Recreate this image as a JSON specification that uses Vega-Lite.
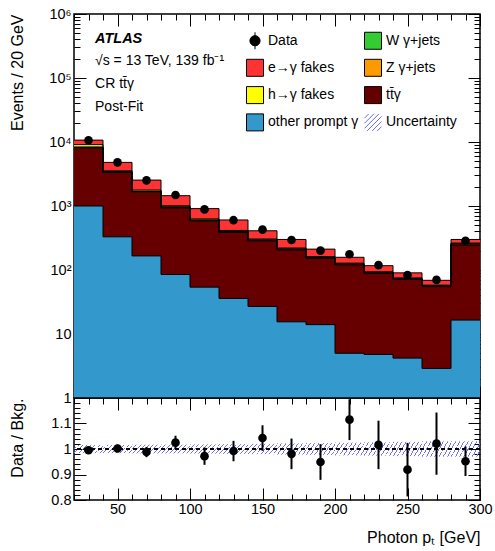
{
"$schema": "https://vega.github.io/schema/vega-lite/v6.json",
"padding": {"left": 8, "top": 5, "right": 5, "bottom": 5},
"spacing": 0,
"bounds": "flush",
"config": {
  "font": "Liberation Sans",
  "view": {"stroke": "black", "strokeWidth": 1.5},
  "axis": {"zindex": 1, "labelFont": "Liberation Sans", "labelFontSize": 14.5, "labelColor": "black", "titleFont": "Liberation Sans", "titleFontSize": 16, "titleFontWeight": "normal", "titleColor": "black", "tickColor": "black", "tickWidth": 1, "grid": false, "domain": false, "labelOverlap": false, "labelFlush": false}
},
"datasets": {
  "bkg": [
    {"lo":20,"hi":40,"comp":"other prompt γ","value":1000},{"lo":20,"hi":40,"comp":"tt̄γ","value":7000},{"lo":20,"hi":40,"comp":"Z γ+jets","value":250},{"lo":20,"hi":40,"comp":"W γ+jets","value":100},{"lo":20,"hi":40,"comp":"h→γ fakes","value":750},{"lo":20,"hi":40,"comp":"e→γ fakes","value":1600},
    {"lo":40,"hi":60,"comp":"other prompt γ","value":330},{"lo":40,"hi":60,"comp":"tt̄γ","value":3020},{"lo":40,"hi":60,"comp":"Z γ+jets","value":60},{"lo":40,"hi":60,"comp":"W γ+jets","value":30},{"lo":40,"hi":60,"comp":"h→γ fakes","value":110},{"lo":40,"hi":60,"comp":"e→γ fakes","value":1250},
    {"lo":60,"hi":80,"comp":"other prompt γ","value":166},{"lo":60,"hi":80,"comp":"tt̄γ","value":1480},{"lo":60,"hi":80,"comp":"Z γ+jets","value":40},{"lo":60,"hi":80,"comp":"W γ+jets","value":20},{"lo":60,"hi":80,"comp":"h→γ fakes","value":70},{"lo":60,"hi":80,"comp":"e→γ fakes","value":764},
    {"lo":80,"hi":100,"comp":"other prompt γ","value":85},{"lo":80,"hi":100,"comp":"tt̄γ","value":850},{"lo":80,"hi":100,"comp":"Z γ+jets","value":25},{"lo":80,"hi":100,"comp":"W γ+jets","value":12},{"lo":80,"hi":100,"comp":"h→γ fakes","value":38},{"lo":80,"hi":100,"comp":"e→γ fakes","value":440},
    {"lo":100,"hi":120,"comp":"other prompt γ","value":54},{"lo":100,"hi":120,"comp":"tt̄γ","value":530},{"lo":100,"hi":120,"comp":"Z γ+jets","value":15},{"lo":100,"hi":120,"comp":"W γ+jets","value":8},{"lo":100,"hi":120,"comp":"h→γ fakes","value":23},{"lo":100,"hi":120,"comp":"e→γ fakes","value":280},
    {"lo":120,"hi":140,"comp":"other prompt γ","value":36},{"lo":120,"hi":140,"comp":"tt̄γ","value":350},{"lo":120,"hi":140,"comp":"Z γ+jets","value":10},{"lo":120,"hi":140,"comp":"W γ+jets","value":5},{"lo":120,"hi":140,"comp":"h→γ fakes","value":14},{"lo":120,"hi":140,"comp":"e→γ fakes","value":190},
    {"lo":140,"hi":160,"comp":"other prompt γ","value":27},{"lo":140,"hi":160,"comp":"tt̄γ","value":258},{"lo":140,"hi":160,"comp":"Z γ+jets","value":7},{"lo":140,"hi":160,"comp":"W γ+jets","value":4},{"lo":140,"hi":160,"comp":"h→γ fakes","value":9},{"lo":140,"hi":160,"comp":"e→γ fakes","value":105},
    {"lo":160,"hi":180,"comp":"other prompt γ","value":15.5},{"lo":160,"hi":180,"comp":"tt̄γ","value":190},{"lo":160,"hi":180,"comp":"Z γ+jets","value":6},{"lo":160,"hi":180,"comp":"W γ+jets","value":3},{"lo":160,"hi":180,"comp":"h→γ fakes","value":6},{"lo":160,"hi":180,"comp":"e→γ fakes","value":79.5},
    {"lo":180,"hi":200,"comp":"other prompt γ","value":14},{"lo":180,"hi":200,"comp":"tt̄γ","value":138},{"lo":180,"hi":200,"comp":"Z γ+jets","value":4},{"lo":180,"hi":200,"comp":"W γ+jets","value":2},{"lo":180,"hi":200,"comp":"h→γ fakes","value":4},{"lo":180,"hi":200,"comp":"e→γ fakes","value":50},
    {"lo":200,"hi":220,"comp":"other prompt γ","value":5},{"lo":200,"hi":220,"comp":"tt̄γ","value":115},{"lo":200,"hi":220,"comp":"Z γ+jets","value":3},{"lo":200,"hi":220,"comp":"W γ+jets","value":2},{"lo":200,"hi":220,"comp":"h→γ fakes","value":3},{"lo":200,"hi":220,"comp":"e→γ fakes","value":30},
    {"lo":220,"hi":240,"comp":"other prompt γ","value":4.8},{"lo":220,"hi":240,"comp":"tt̄γ","value":84},{"lo":220,"hi":240,"comp":"Z γ+jets","value":2},{"lo":220,"hi":240,"comp":"W γ+jets","value":1},{"lo":220,"hi":240,"comp":"h→γ fakes","value":2},{"lo":220,"hi":240,"comp":"e→γ fakes","value":23},
    {"lo":240,"hi":260,"comp":"other prompt γ","value":4.2},{"lo":240,"hi":260,"comp":"tt̄γ","value":67},{"lo":240,"hi":260,"comp":"Z γ+jets","value":1.5},{"lo":240,"hi":260,"comp":"W γ+jets","value":1},{"lo":240,"hi":260,"comp":"h→γ fakes","value":1.5},{"lo":240,"hi":260,"comp":"e→γ fakes","value":15},
    {"lo":260,"hi":280,"comp":"other prompt γ","value":2.9},{"lo":260,"hi":280,"comp":"tt̄γ","value":52},{"lo":260,"hi":280,"comp":"Z γ+jets","value":1.2},{"lo":260,"hi":280,"comp":"W γ+jets","value":0.8},{"lo":260,"hi":280,"comp":"h→γ fakes","value":1.1},{"lo":260,"hi":280,"comp":"e→γ fakes","value":11},
    {"lo":280,"hi":300,"comp":"other prompt γ","value":16.5},{"lo":280,"hi":300,"comp":"tt̄γ","value":229},{"lo":280,"hi":300,"comp":"Z γ+jets","value":8},{"lo":280,"hi":300,"comp":"W γ+jets","value":4},{"lo":280,"hi":300,"comp":"h→γ fakes","value":6},{"lo":280,"hi":300,"comp":"e→γ fakes","value":36.5}
  ],
  "obs": [
    {"comp":"Data","x":30,"lo":20,"hi":40,"n":10650,"ratio":0.995,"err":0.01,"blo":0.984,"bhi":1.016},
    {"comp":"Data","x":50,"lo":40,"hi":60,"n":4810,"ratio":1.002,"err":0.015,"blo":0.984,"bhi":1.016},
    {"comp":"Data","x":70,"lo":60,"hi":80,"n":2510,"ratio":0.988,"err":0.02,"blo":0.983,"bhi":1.017},
    {"comp":"Data","x":90,"lo":80,"hi":100,"n":1486,"ratio":1.025,"err":0.027,"blo":0.983,"bhi":1.017},
    {"comp":"Data","x":110,"lo":100,"hi":120,"n":885,"ratio":0.972,"err":0.034,"blo":0.982,"bhi":1.018},
    {"comp":"Data","x":130,"lo":120,"hi":140,"n":600,"ratio":0.992,"err":0.04,"blo":0.981,"bhi":1.019},
    {"comp":"Data","x":150,"lo":140,"hi":160,"n":428,"ratio":1.043,"err":0.05,"blo":0.98,"bhi":1.02},
    {"comp":"Data","x":170,"lo":160,"hi":180,"n":294,"ratio":0.981,"err":0.06,"blo":0.978,"bhi":1.022},
    {"comp":"Data","x":190,"lo":180,"hi":200,"n":201,"ratio":0.949,"err":0.07,"blo":0.977,"bhi":1.023},
    {"comp":"Data","x":210,"lo":200,"hi":220,"n":176,"ratio":1.115,"err":0.08,"blo":0.975,"bhi":1.025},
    {"comp":"Data","x":230,"lo":220,"hi":240,"n":119,"ratio":1.016,"err":0.095,"blo":0.974,"bhi":1.026},
    {"comp":"Data","x":250,"lo":240,"hi":260,"n":83,"ratio":0.919,"err":0.105,"blo":0.972,"bhi":1.028},
    {"comp":"Data","x":270,"lo":260,"hi":280,"n":70,"ratio":1.021,"err":0.122,"blo":0.97,"bhi":1.03},
    {"comp":"Data","x":290,"lo":280,"hi":300,"n":286,"ratio":0.952,"err":0.058,"blo":0.97,"bhi":1.03}
  ]
},
"vconcat": [
  {
    "width": 406, "height": 384,
    "layer": [
      {
        "data": {"name": "bkg"},
        "transform": [{"stack": "value", "groupby": ["lo"], "as": ["y0", "y1"]}],
        "mark": {"type": "bar"},
        "encoding": {
          "x": {"field": "lo", "type": "quantitative", "scale": {"domain": [20, 300], "nice": false, "zero": false},
                "axis": {"orient": "bottom", "values": [20,30,40,50,60,70,80,90,100,110,120,130,140,150,160,170,180,190,200,210,220,230,240,250,260,270,280,290,300], "labels": false, "title": null,
                         "tickSize": {"condition": {"test": "datum.value % 50 == 0", "value": -12}, "value": -6}}},
          "x2": {"field": "hi"},
          "y": {"field": "y1", "type": "quantitative", "scale": {"type": "log", "domain": [1, 1000000], "nice": false},
                "axis": {"orient": "left", "values": [1,2,3,4,5,6,7,8,9,10,20,30,40,50,60,70,80,90,100,200,300,400,500,600,700,800,900,1000,2000,3000,4000,5000,6000,7000,8000,9000,10000,20000,30000,40000,50000,60000,70000,80000,90000,100000,200000,300000,400000,500000,600000,700000,800000,900000,1000000],
                         "labelExpr": "datum.value == 1 ? '1' : datum.value == 10 ? '10' : datum.value == 100 ? '10²' : datum.value == 1000 ? '10³' : datum.value == 10000 ? '10⁴' : datum.value == 100000 ? '10⁵' : datum.value == 1000000 ? '10⁶' : ''",
                         "tickSize": {"condition": {"test": "datum.value == 1 || datum.value == 10 || datum.value == 100 || datum.value == 1000 || datum.value == 10000 || datum.value == 100000 || datum.value == 1000000", "value": -12}, "value": -6},
                         "labelPadding": 15, "title": "Events / 20 GeV", "titleAnchor": "end", "titleX": -49}},
          "y2": {"datum": 1},
          "color": {"field": "comp", "type": "nominal",
                    "scale": {"domain": ["Data","W γ+jets","e→γ fakes","Z γ+jets","h→γ fakes","tt̄γ","other prompt γ","Uncertainty"],
                              "range": ["#000000","#33cc33","#ff3333","#ff9900","#ffff00","#660000","#3399cc","#ffffff"]},
                    "legend": {"orient": "none", "legendX": 172, "legendY": 17.5, "columns": 2, "direction": "horizontal", "title": null, "padding": 0, "symbolSize": 289, "symbolStrokeColor": "black", "symbolStrokeWidth": 1, "symbolOpacity": 1, "labelFontSize": 14, "labelFont": "Liberation Sans", "labelColor": "black", "labelOffset": 4, "rowPadding": 5.3, "columnPadding": 3, "labelLimit": 300,
                               "encode": {"symbols": {"update": {"stroke": {"signal": "datum.value == 'Uncertainty' ? '#6a6af0' : 'black'"}, "strokeWidth": {"value": 1}}}}}},
          "order": {"field": "y1", "sort": "descending"}
        }
      },
      {
        "data": {"name": "bkg"},
        "transform": [{"stack": "value", "groupby": ["lo"], "as": ["y0", "y1"]}],
        "mark": {"type": "rule", "color": "black", "strokeWidth": 1},
        "encoding": {
          "x": {"field": "lo", "type": "quantitative", "axis": null},
          "x2": {"field": "hi"},
          "y": {"field": "y1", "type": "quantitative", "axis": null}
        }
      },
      {
        "data": {"name": "bkg"},
        "transform": [
          {"stack": "value", "groupby": ["lo"], "as": ["y0", "y1"]},
          {"window": [{"op": "lead", "field": "y1", "as": "nxt"}], "groupby": ["comp"], "sort": [{"field": "lo", "order": "ascending"}]},
          {"filter": "isValid(datum.nxt)"}
        ],
        "mark": {"type": "rule", "color": "black", "strokeWidth": 1},
        "encoding": {
          "x": {"field": "hi", "type": "quantitative", "axis": null},
          "y": {"field": "y1", "type": "quantitative", "axis": null},
          "y2": {"field": "nxt"}
        }
      },
      {
        "data": {"name": "obs"},
        "mark": {"type": "point", "filled": true, "color": "black", "size": 75, "opacity": 1, "shape": "circle"},
        "encoding": {
          "x": {"field": "x", "type": "quantitative",
                "axis": {"orient": "top", "values": [20,30,40,50,60,70,80,90,100,110,120,130,140,150,160,170,180,190,200,210,220,230,240,250,260,270,280,290,300], "labels": false, "title": null,
                         "tickSize": {"condition": {"test": "datum.value % 50 == 0", "value": -12}, "value": -6}}},
          "y": {"field": "n", "type": "quantitative",
                "axis": {"orient": "right", "values": [1,2,3,4,5,6,7,8,9,10,20,30,40,50,60,70,80,90,100,200,300,400,500,600,700,800,900,1000,2000,3000,4000,5000,6000,7000,8000,9000,10000,20000,30000,40000,50000,60000,70000,80000,90000,100000,200000,300000,400000,500000,600000,700000,800000,900000,1000000],
                         "labels": false, "title": null,
                         "tickSize": {"condition": {"test": "datum.value == 1 || datum.value == 10 || datum.value == 100 || datum.value == 1000 || datum.value == 10000 || datum.value == 100000 || datum.value == 1000000", "value": -12}, "value": -6}}}
        }
      },
      {
        "data": {"name": "obs"},
        "mark": {"type": "point", "filled": true, "opacity": 0},
        "encoding": {
          "x": {"field": "x", "type": "quantitative", "axis": null},
          "y": {"field": "n", "type": "quantitative", "axis": null},
          "color": {"field": "comp", "type": "nominal",
                    "scale": {"domain": ["Data","W γ+jets","e→γ fakes","Z γ+jets","h→γ fakes","tt̄γ","other prompt γ","Uncertainty"],
                              "range": ["#000000","#33cc33","#ff3333","#ff9900","#ffff00","#660000","#3399cc","#ffffff"]},
                    "legend": {"orient": "none", "legendX": 172, "legendY": 17.5, "columns": 2, "direction": "horizontal", "title": null, "padding": 0, "symbolSize": 289, "symbolStrokeColor": "black", "symbolStrokeWidth": 1, "symbolOpacity": 1, "labelFontSize": 14, "labelFont": "Liberation Sans", "labelColor": "black", "labelOffset": 4, "rowPadding": 5.3, "columnPadding": 3, "labelLimit": 300,
                               "encode": {"symbols": {"update": {"stroke": {"signal": "datum.value == 'Uncertainty' ? '#6a6af0' : 'black'"}, "strokeWidth": {"value": 1}}}}}},
          "shape": {"field": "comp", "type": "nominal",
                    "scale": {"domain": ["Data","W γ+jets","e→γ fakes","Z γ+jets","h→γ fakes","tt̄γ","other prompt γ","Uncertainty"],
                              "range": ["M-0.6,0A0.6,0.6 0 1,0 0.6,0A0.6,0.6 0 1,0 -0.6,0ZM0,-1L0,1","square","square","square","square","square","square","M-1,-0.5L-0.5,-1M-1,0.1L0.1,-1M-1,0.7L0.7,-1M-0.7,1L1,-0.7M-0.1,1L1,-0.1M0.5,1L1,0.5"]},
                    "legend": {"orient": "none", "legendX": 172, "legendY": 17.5, "columns": 2, "direction": "horizontal", "title": null, "padding": 0, "symbolSize": 289, "symbolStrokeColor": "black", "symbolStrokeWidth": 1, "symbolOpacity": 1, "labelFontSize": 14, "labelFont": "Liberation Sans", "labelColor": "black", "labelOffset": 4, "rowPadding": 5.3, "columnPadding": 3, "labelLimit": 300,
                               "encode": {"symbols": {"update": {"stroke": {"signal": "datum.value == 'Uncertainty' ? '#6a6af0' : 'black'"}, "strokeWidth": {"value": 1}}}}}}
        }
      },
      {
        "data": {"values": [{}]},
        "mark": {"type": "text", "text": "ATLAS", "align": "left", "baseline": "middle", "fontSize": 14.5, "fontWeight": "bold", "fontStyle": "italic", "color": "black"},
        "encoding": {"x": {"datum": 34.5, "type": "quantitative", "axis": null}, "y": {"datum": 407000, "type": "quantitative", "axis": null}}
      },
      {
        "data": {"values": [{}]},
        "mark": {"type": "text", "text": "√s = 13 TeV, 139 fb⁻¹", "align": "left", "baseline": "middle", "fontSize": 14, "color": "black"},
        "encoding": {"x": {"datum": 34.5, "type": "quantitative", "axis": null}, "y": {"datum": 184000, "type": "quantitative", "axis": null}}
      },
      {
        "data": {"values": [{}]},
        "mark": {"type": "text", "text": "CR tt̄γ", "align": "left", "baseline": "middle", "fontSize": 14, "color": "black"},
        "encoding": {"x": {"datum": 34.5, "type": "quantitative", "axis": null}, "y": {"datum": 80600, "type": "quantitative", "axis": null}}
      },
      {
        "data": {"values": [{}]},
        "mark": {"type": "text", "text": "Post-Fit", "align": "left", "baseline": "middle", "fontSize": 14, "color": "black"},
        "encoding": {"x": {"datum": 34.5, "type": "quantitative", "axis": null}, "y": {"datum": 35200, "type": "quantitative", "axis": null}}
      }
    ],
    "resolve": {"axis": {"x": "independent", "y": "independent"}}
  },
  {
    "width": 406, "height": 102,
    "data": {"name": "obs"},
    "layer": [
      {
        "mark": {"type": "bar", "fill": {"gradient": "linear", "x1": 0, "y1": 0, "x2": 1.2, "y2": 0.36, "stops": [
          {"offset":0,"color":"#7474f2"},{"offset":0.025,"color":"#7474f2"},{"offset":0.025,"color":"rgba(255,255,255,0)"},{"offset":0.1111,"color":"rgba(255,255,255,0)"},
          {"offset":0.1111,"color":"#7474f2"},{"offset":0.1361,"color":"#7474f2"},{"offset":0.1361,"color":"rgba(255,255,255,0)"},{"offset":0.2222,"color":"rgba(255,255,255,0)"},
          {"offset":0.2222,"color":"#7474f2"},{"offset":0.2472,"color":"#7474f2"},{"offset":0.2472,"color":"rgba(255,255,255,0)"},{"offset":0.3333,"color":"rgba(255,255,255,0)"},
          {"offset":0.3333,"color":"#7474f2"},{"offset":0.3583,"color":"#7474f2"},{"offset":0.3583,"color":"rgba(255,255,255,0)"},{"offset":0.4444,"color":"rgba(255,255,255,0)"},
          {"offset":0.4444,"color":"#7474f2"},{"offset":0.4694,"color":"#7474f2"},{"offset":0.4694,"color":"rgba(255,255,255,0)"},{"offset":0.5556,"color":"rgba(255,255,255,0)"},
          {"offset":0.5556,"color":"#7474f2"},{"offset":0.5806,"color":"#7474f2"},{"offset":0.5806,"color":"rgba(255,255,255,0)"},{"offset":0.6667,"color":"rgba(255,255,255,0)"},
          {"offset":0.6667,"color":"#7474f2"},{"offset":0.6917,"color":"#7474f2"},{"offset":0.6917,"color":"rgba(255,255,255,0)"},{"offset":0.7778,"color":"rgba(255,255,255,0)"},
          {"offset":0.7778,"color":"#7474f2"},{"offset":0.8028,"color":"#7474f2"},{"offset":0.8028,"color":"rgba(255,255,255,0)"},{"offset":0.8889,"color":"rgba(255,255,255,0)"},
          {"offset":0.8889,"color":"#7474f2"},{"offset":0.9139,"color":"#7474f2"},{"offset":0.9139,"color":"rgba(255,255,255,0)"},{"offset":1,"color":"rgba(255,255,255,0)"}
        ]}},
        "encoding": {
          "x": {"field": "lo", "type": "quantitative", "scale": {"domain": [20, 300], "nice": false, "zero": false},
                "axis": {"orient": "bottom", "values": [20,30,40,50,60,70,80,90,100,110,120,130,140,150,160,170,180,190,200,210,220,230,240,250,260,270,280,290,300],
                         "labelExpr": "datum.value % 50 == 0 ? datum.label : ''", "labelPadding": 14,
                         "tickSize": {"condition": {"test": "datum.value % 50 == 0", "value": -12}, "value": -6},
                         "title": "Photon pₜ [GeV]", "titleAnchor": "end", "titlePadding": 8}},
          "x2": {"field": "hi"},
          "y": {"field": "blo", "type": "quantitative", "scale": {"domain": [0.8, 1.2], "nice": false, "zero": false},
                "axis": {"orient": "left", "values": [0.8,0.82,0.84,0.86,0.88,0.9,0.92,0.94,0.96,0.98,1,1.02,1.04,1.06,1.08,1.1,1.12,1.14,1.16,1.18,1.2],
                         "labelExpr": "datum.value == 0.8 ? '0.8' : datum.value == 0.9 ? '0.9' : datum.value == 1 ? '1' : datum.value == 1.1 ? '1.1' : ''",
                         "tickSize": {"condition": {"test": "datum.value == 0.8 || datum.value == 0.9 || datum.value == 1 || datum.value == 1.1 || datum.value == 1.2", "value": -12}, "value": -6},
                         "labelPadding": 15, "title": "Data / Bkg.", "titleAnchor": "end", "titleX": -49}},
          "y2": {"field": "bhi"}
        }
      },
      {
        "mark": {"type": "rule", "color": "black", "strokeWidth": 1, "strokeDash": [4, 3]},
        "encoding": {"y": {"datum": 1, "type": "quantitative", "axis": null}}
      },
      {
        "mark": {"type": "errorbar", "color": "black", "thickness": 2},
        "encoding": {
          "x": {"field": "x", "type": "quantitative", "axis": null},
          "y": {"field": "ratio", "type": "quantitative", "axis": null},
          "yError": {"field": "err"}
        }
      },
      {
        "mark": {"type": "point", "filled": true, "color": "black", "size": 75, "opacity": 1, "shape": "circle"},
        "encoding": {
          "x": {"field": "x", "type": "quantitative",
                "axis": {"orient": "top", "values": [20,30,40,50,60,70,80,90,100,110,120,130,140,150,160,170,180,190,200,210,220,230,240,250,260,270,280,290,300], "labels": false, "title": null,
                         "tickSize": {"condition": {"test": "datum.value % 50 == 0", "value": -12}, "value": -6}}},
          "y": {"field": "ratio", "type": "quantitative",
                "axis": {"orient": "right", "values": [0.8,0.82,0.84,0.86,0.88,0.9,0.92,0.94,0.96,0.98,1,1.02,1.04,1.06,1.08,1.1,1.12,1.14,1.16,1.18,1.2], "labels": false, "title": null,
                         "tickSize": {"condition": {"test": "datum.value == 0.8 || datum.value == 0.9 || datum.value == 1 || datum.value == 1.1 || datum.value == 1.2", "value": -12}, "value": -6}}}
        }
      }
    ],
    "resolve": {"axis": {"x": "independent", "y": "independent"}}
  }
]
}
